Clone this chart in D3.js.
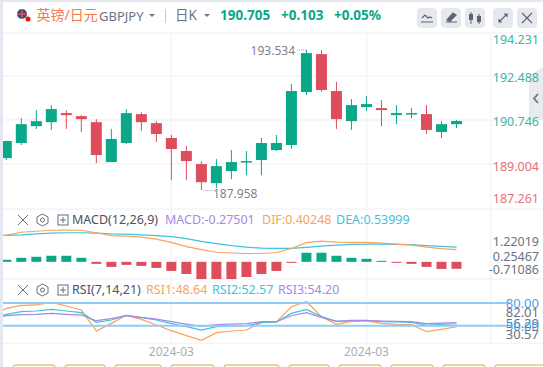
<!DOCTYPE html>
<html lang="zh">
<head>
<meta charset="utf-8" />
<title>GBPJPY</title>
<script src="https://cdn.jsdelivr.net/npm/d3@7"></script>
<style>
  html, body { margin: 0; background: #fff; overflow: hidden; }
  svg { display: block; }
  text { font-family: "Noto Sans", "Noto Sans CJK SC", sans-serif; }
</style>
</head>
<body>
<div id="chart"></div>
<script>
// candles, oldest first
const opens  = [189.23,189.83,190.50,190.66,191.02,190.90,190.66,189.07,189.83,190.98,190.62,190.03,189.51,188.99,188.23,188.71,189.07,189.15,189.55,189.75,191.86,193.37,191.90,190.70,191.26,191.22,190.94,190.98,190.98,190.27,190.58];
const closes = [189.91,190.58,190.70,191.18,190.94,190.78,189.35,189.99,191.02,190.66,190.19,189.59,189.11,188.27,188.91,189.07,189.11,189.83,189.83,191.90,193.41,191.94,190.78,191.34,191.38,191.14,191.02,191.02,190.35,190.58,190.705];
const highs  = [189.91,190.82,191.14,191.34,191.14,190.94,190.78,190.39,191.18,191.06,190.70,190.15,189.71,189.11,189.19,189.55,189.51,190.03,190.15,192.18,193.534,193.53,192.26,191.58,191.70,191.54,191.34,191.22,191.34,190.70,190.74];
const lows   = [189.15,189.75,190.39,190.35,190.39,190.27,189.03,189.07,189.79,190.31,189.87,188.35,188.35,187.958,188.03,188.39,188.55,188.55,189.51,189.59,191.74,191.86,190.39,190.35,191.10,190.50,190.58,190.82,190.19,190.03,190.42];
const priceTicks = [194.231,192.488,190.746,189.004,187.261];
const priceHigh = 193.534, priceLow = 187.958;

const macdHist = [0.08,0.16,0.20,0.24,0.24,0.16,-0.08,-0.20,-0.12,-0.16,-0.24,-0.36,-0.48,-0.68,-0.68,-0.68,-0.60,-0.48,-0.36,-0.04,0.36,0.36,0.24,0.16,0.12,0.04,-0.04,-0.08,-0.20,-0.28,-0.27501];
const macdDif  = [1.06,1.17,1.21,1.25,1.26,1.25,1.15,1.04,1.02,0.98,0.90,0.77,0.60,0.48,0.38,0.35,0.33,0.33,0.37,0.53,0.76,0.82,0.78,0.77,0.77,0.74,0.70,0.66,0.58,0.52,0.48];
const macdDea  = [1.05,1.07,1.11,1.14,1.15,1.15,1.14,1.11,1.10,1.07,1.04,1.00,0.92,0.81,0.72,0.64,0.58,0.54,0.53,0.53,0.57,0.62,0.66,0.69,0.70,0.70,0.69,0.68,0.64,0.61,0.58];
const macdTicks = ["1.22019","0.25467","-0.71086"];

const rsi1 = [72.9,76.9,77.4,80.9,76.0,70.7,43.0,53.1,63.7,58.4,50.9,43.4,36.8,30.57,40.8,43.0,44.3,54.4,54.9,75.1,82.01,61.9,51.8,55.7,56.2,53.1,51.8,51.3,42.1,45.2,48.64];
const rsi2 = [65.0,68.5,69.4,71.6,69.4,67.2,54.4,57.5,63.7,60.6,57.5,52.7,48.7,44.3,48.7,49.6,50.0,54.0,54.9,66.3,71.6,61.9,55.7,56.6,56.6,55.3,54.9,54.4,50.5,51.8,52.57];
const rsi3 = [63.2,64.6,65.0,66.3,65.0,64.1,56.6,59.3,63.2,61.0,58.8,55.3,52.2,49.1,51.3,52.2,52.7,55.3,55.3,63.2,67.2,61.0,55.7,57.1,57.1,56.2,55.7,55.3,52.7,53.5,54.20];
// the bar just left of the frame, lines come in from it
const prevDif = 1.00, prevDea = 1.02, prevRsi1 = 62.0, prevRsi2 = 60.6, prevRsi3 = 58.8;
const rsiBands = [80,50];
const rsiTicks = ["82.01","56.29","30.57"];

const dateLabels = [{i:11,t:"2024-03"},{i:24,t:"2024-03"}];
const tabs = [[13,55],[65,105],[115,161],[171,214],[224,279],[289,329],[339,381],[391,433],[443,485],[495,560]];

const W = 543, H = 367;
const UP = "#0aa888", DOWN = "#dd4d5b", ORANGE = "#f9a35b", CYAN = "#3cc4dc", PURPLE = "#a58ae2", GRAY = "#6b7280", GRID = "#f3f4f8";

const svg = d3.select("#chart").append("svg").attr("width", W).attr("height", H);
svg.append("defs").append("clipPath").attr("id", "plot")
  .append("rect").attr("x", 3).attr("y", 33).attr("width", 488).attr("height", 334);

const idx = d3.range(opens.length);
const x = d3.scaleLinear().domain([0, 30]).range([6.3, 456.5]);
const yPrice = d3.scaleLinear().domain([187.261, 194.231]).range([207.5, 32.5]);
const yMacd = d3.scaleLinear().domain([-0.71086, 1.22019]).range([279.8, 231]);
const yRsi = d3.scaleLinear().domain([50, 80]).range([325.7, 303]);

// frame + grid
svg.append("rect").attr("width", W).attr("height", 2).attr("fill", "#e6e8ef");
svg.append("rect").attr("y", 0).attr("width", 3).attr("height", H).attr("fill", "#e6e8ef");
const grid = svg.append("g").attr("stroke", GRID).attr("stroke-width", 1.5);
[33, 209, 279, 343.5].concat(priceTicks.slice(1, 4).map(yPrice)).forEach(y =>
  grid.append("line").attr("x1", 3).attr("x2", W).attr("y1", y).attr("y2", y));
dateLabels.forEach(d => grid.append("line").attr("x1", x(d.i)).attr("x2", x(d.i)).attr("y1", 33).attr("y2", 345));
grid.append("line").attr("x1", 491).attr("x2", 491).attr("y1", 33).attr("y2", 345);

const plot = svg.append("g").attr("clip-path", "url(#plot)");

// candles
const colorOf = i => closes[i] >= opens[i] ? UP : DOWN;
plot.selectAll("line.wick").data(idx).join("line").attr("class", "wick")
  .attr("x1", x).attr("x2", x)
  .attr("y1", i => yPrice(highs[i])).attr("y2", i => yPrice(lows[i]))
  .attr("stroke", colorOf).attr("stroke-width", 1);
plot.selectAll("rect.body").data(idx).join("rect").attr("class", "body")
  .attr("x", i => x(i) - 5.5).attr("width", 11)
  .attr("y", i => yPrice(Math.max(opens[i], closes[i])))
  .attr("height", i => Math.max(1.5, Math.abs(yPrice(opens[i]) - yPrice(closes[i]))))
  .attr("fill", colorOf);

// macd
plot.selectAll("rect.hist").data(idx).join("rect").attr("class", "hist")
  .attr("x", i => x(i) - 5).attr("width", 10)
  .attr("y", i => Math.min(yMacd(macdHist[i]), yMacd(0)))
  .attr("height", i => Math.abs(yMacd(macdHist[i]) - yMacd(0)))
  .attr("fill", i => macdHist[i] >= 0 ? UP : DOWN);
const line = (y) => d3.line().x((d, i) => x(i - 1)).y(d => y(d));
[[[prevDea, ...macdDea], CYAN], [[prevDif, ...macdDif], ORANGE]].forEach(([s, c]) =>
  plot.append("path").attr("d", line(yMacd)(s)).attr("fill", "none").attr("stroke", c).attr("stroke-width", 1.2));

// rsi
rsiBands.forEach(b => svg.append("line").attr("x1", 3).attr("x2", 508)
  .attr("y1", yRsi(b)).attr("y2", yRsi(b)).attr("stroke", "#93cbf5").attr("stroke-width", 2));
[[[prevRsi1, ...rsi1], ORANGE], [[prevRsi2, ...rsi2], CYAN], [[prevRsi3, ...rsi3], PURPLE]].forEach(([s, c]) =>
  plot.append("path").attr("d", line(yRsi)(s)).attr("fill", "none").attr("stroke", c).attr("stroke-width", 1.2));

// price axis
const txt = (px, py, t, fill, size, anchor, weight) => svg.append("text")
  .attr("x", px).attr("y", py).attr("dy", "0.35em").attr("fill", fill)
  .attr("font-size", size).attr("text-anchor", anchor || "start").attr("font-weight", weight || 400).text(t);

svg.append("path").attr("d", "M543,67 L529,76 V120 H543 Z").attr("fill", "#e9eaf0");
svg.append("path").attr("d", "M538,94 L534,98.5 L538,103").attr("fill", "none").attr("stroke", "#6b7280").attr("stroke-width", 1.8);

const priceLabelY = [40, 77.5, 121.5, 166.5, 199];
priceTicks.forEach((t, i) => txt(539, priceLabelY[i], t.toFixed(3), i < 3 ? "#27b096" : "#e2646f", 12.5, "end").attr("opacity", 0.9));

// high/low notes
txt(295, 51, priceHigh.toFixed(3), "#7d8390", 12, "end");
txt(213, 194, priceLow.toFixed(3), "#7d8390", 12);
svg.append("path").attr("d", `M297,50 H${x(20)}`).attr("stroke", "#9a9fab").attr("stroke-dasharray", "1 1");
svg.append("path").attr("d", `M${x(13)+2},190.7 h9`).attr("stroke", "#9a9fab").attr("stroke-dasharray", "1 1");

// macd axis
[242, 257, 270].forEach((y, i) => txt(539, y, macdTicks[i], GRAY, 12.5, "end"));
// rsi axis, these sit on top of each other in the original too
txt(539, 303, "80.00", "#3fa2f0", 13, "end");
txt(539, 312.5, rsiTicks[0], GRAY, 13, "end");
txt(539, 323, rsiTicks[1], GRAY, 13, "end");
txt(539, 326, "50.00", "#3fa2f0", 13, "end");
txt(539, 334, rsiTicks[2], GRAY, 13, "end");

// dates
dateLabels.forEach(d => txt(x(d.i), 352, d.t, "#a9adba", 12, "middle"));

// panel headers
function panelHead(y) {
  const g = svg.append("g").attr("fill", "none").attr("stroke", "#666c78").attr("stroke-width", 1);
  g.append("path").attr("d", `M18,${y-5} l10,10 M28,${y-5} l-10,10`);
  g.append("path").attr("d", `M42.5,${y-6} l5.5,3 v6 l-5.5,3 l-5.5,-3 v-6 Z`);
  g.append("circle").attr("cx", 42.5).attr("cy", y).attr("r", 2);
  g.append("rect").attr("x", 58).attr("y", y - 5).attr("width", 10).attr("height", 10);
  g.append("path").attr("d", `M60,${y} h6 M63,${y-3} v6`);
}
panelHead(220);
txt(72, 220, "MACD(12,26,9)", "#4b5160", 12.5);
txt(165, 220, "MACD:-0.27501", PURPLE, 12.5);
txt(262, 220, "DIF:0.40248", ORANGE, 12.5);
txt(336, 220, "DEA:0.53999", CYAN, 12.5);
panelHead(290);
txt(72, 290, "RSI(7,14,21)", "#4b5160", 12.5);
txt(146, 290, "RSI1:48.64", ORANGE, 12.5);
txt(212, 290, "RSI2:52.57", CYAN, 12.5);
txt(278, 290, "RSI3:54.20", PURPLE, 12.5);

// top bar
const flag = svg.append("g");
flag.append("circle").attr("cx", 22).attr("cy", 14).attr("r", 5).attr("fill", "#3b4a78");
flag.append("path").attr("d", "M17,14 h10 M22,9 v10").attr("stroke", "#e0505a").attr("stroke-width", 1.6);
flag.append("circle").attr("cx", 28).attr("cy", 19).attr("r", 2.5).attr("fill", "#f01010");
txt(36.5, 15, "英镑/日元", "#f9774a", 14);
txt(99, 16, "GBPJPY", GRAY, 13);
svg.append("path").attr("d", "M149,14 h6 l-3,3 Z").attr("fill", GRAY);
svg.append("line").attr("x1", 165.5).attr("x2", 165.5).attr("y1", 9).attr("y2", 23).attr("stroke", "#c9ccd4");
txt(175, 15, "日K", GRAY, 13.5);
svg.append("path").attr("d", "M204,14 h6 l-3,3 Z").attr("fill", GRAY);
txt(220, 15, "190.705", UP, 13.5, "start", 700);
txt(281, 15, "+0.103", UP, 13.5, "start", 700);
txt(334, 15, "+0.05%", UP, 13.5, "start", 700);

[417, 441, 465, 493, 517].forEach(bx =>
  svg.append("rect").attr("x", bx).attr("y", 8).attr("width", 20).attr("height", 20).attr("rx", 4).attr("fill", "#e6e8ef"));
const ic = svg.append("g").attr("fill", "none").attr("stroke", "#5c6270").attr("stroke-width", 1.2);
ic.append("path").attr("d", "M422,18 l3,-3 l3,3 l2,-1 l2,1 M421,22 h12");
ic.append("path").attr("d", "M446,22 h11 M447,20 l6,-7 l3,2 l-6,6 z").attr("fill", "#5c6270");
ic.append("path").attr("d", "M471,12 v12 M479,14 v10").attr("stroke-width", 1);
ic.append("rect").attr("x", 469).attr("y", 14).attr("width", 4).attr("height", 6).attr("fill", "#5c6270").attr("stroke", "none");
ic.append("rect").attr("x", 477).attr("y", 16).attr("width", 4).attr("height", 6).attr("fill", "#5c6270").attr("stroke", "none");
ic.append("path").attr("d", "M499,22 l8,-8 M504,14 h3 v3 M499,19 v3 h3");
ic.append("path").attr("d", "M522,13 l10,10 M532,13 l-10,10");

// bottom tabs, only their top edge is in view
tabs.forEach(([a, b]) => svg.append("rect").attr("x", a).attr("y", 365).attr("width", b - a)
  .attr("height", 12).attr("rx", 2).attr("fill", "#fff").attr("stroke", "#e0a33e").attr("stroke-width", 1));
</script>
</body>
</html>
